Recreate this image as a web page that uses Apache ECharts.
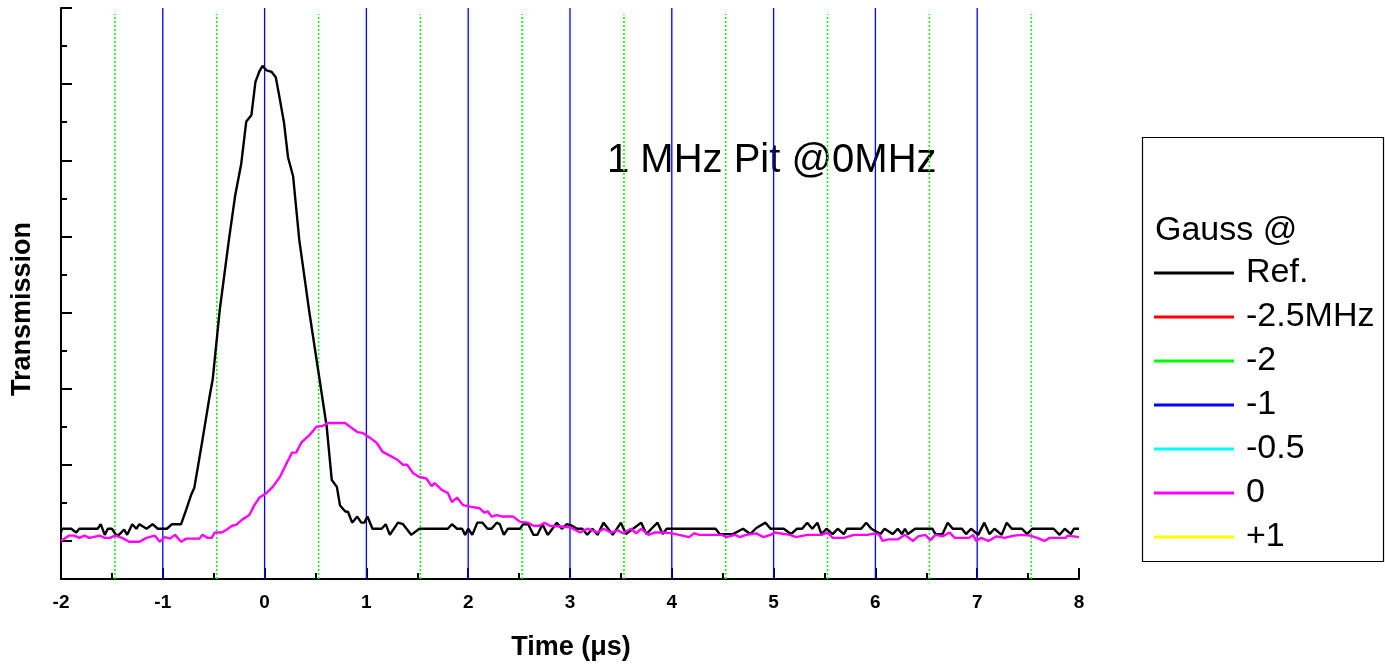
<!DOCTYPE html>
<html>
<head>
<meta charset="utf-8">
<script src="https://cdn.jsdelivr.net/npm/echarts@6/dist/echarts.min.js"></script>
<style>html,body{margin:0;padding:0;background:#fff}#c{width:1385px;height:665px}</style>
</head>
<body>
<div id="c"></div>
<script>
// ---- data ----
const xTicks = [-2, -1, 0, 1, 2, 3, 4, 5, 6, 7, 8];
const blueLines = [-1, 0, 1, 2, 3, 4, 5, 6, 7];
const greenLines = [-1.47, -0.47, 0.53, 1.53, 2.53, 3.53, 4.53, 5.53, 6.53, 7.53];
const yMajorTicks = [0.5, 1.5, 2.5, 3.5, 4.5, 5.5, 6.5, 7.5];
const yMinorTicks = [0, 1, 2, 3, 4, 5, 6, 7];
const legendNames = ['Ref.', '-2.5MHz', '-2', '-1', '-0.5', '0', '+1'];
const legendColors = ['#000000', '#ff0000', '#00ff00', '#0000ff', '#00ffff', '#ff00ff', '#ffff00'];

const refTime = [-2.00,-1.99,-1.90,-1.85,-1.82,-1.64,-1.61,-1.57,-1.54,-1.50,-1.46,-1.43,-1.38,-1.35,-1.30,-1.26,-1.23,-1.16,-1.10,-1.05,-0.96,-0.91,-0.82,-0.77,-0.72,-0.69,-0.61,-0.54,-0.51,-0.44,-0.35,-0.29,-0.23,-0.18,-0.13,-0.09,-0.05,-0.02,0.02,0.07,0.11,0.15,0.19,0.23,0.28,0.34,0.44,0.54,0.61,0.66,0.71,0.74,0.79,0.82,0.86,0.91,0.95,0.98,1.01,1.06,1.15,1.19,1.23,1.31,1.36,1.44,1.52,1.80,1.84,1.89,1.94,1.97,2.00,2.04,2.09,2.14,2.19,2.23,2.28,2.31,2.35,2.39,2.51,2.54,2.59,2.64,2.68,2.73,2.78,2.80,2.87,2.92,2.97,3.02,3.07,3.12,3.17,3.22,3.27,3.33,3.42,3.50,3.55,3.62,3.70,3.75,3.80,3.86,3.91,3.95,4.00,4.43,4.47,4.60,4.70,4.77,4.83,4.92,4.97,5.10,5.17,5.23,5.28,5.33,5.38,5.43,5.47,5.52,5.58,5.63,5.69,5.72,5.86,5.91,5.96,6.05,6.09,6.17,6.22,6.26,6.29,6.32,6.39,6.56,6.59,6.66,6.71,6.76,6.85,6.89,6.94,7.01,7.07,7.12,7.17,7.24,7.29,7.34,7.44,7.49,7.54,7.75,7.81,7.86,7.92,7.95,8.00];
const refValue = [0.61,0.66,0.66,0.61,0.66,0.66,0.72,0.58,0.66,0.66,0.58,0.58,0.65,0.58,0.72,0.66,0.72,0.66,0.72,0.66,0.66,0.72,0.72,0.91,1.11,1.20,1.83,2.40,2.62,3.54,4.46,5.03,5.45,6.01,6.09,6.53,6.67,6.74,6.68,6.66,6.59,6.30,6.00,5.54,5.29,4.46,3.50,2.62,2.00,1.30,1.21,0.97,0.89,0.88,0.74,0.82,0.74,0.74,0.82,0.66,0.66,0.72,0.58,0.74,0.72,0.58,0.66,0.66,0.72,0.66,0.66,0.58,0.66,0.58,0.74,0.74,0.66,0.66,0.74,0.72,0.58,0.66,0.66,0.72,0.72,0.58,0.58,0.72,0.58,0.61,0.74,0.66,0.72,0.70,0.66,0.66,0.58,0.66,0.58,0.74,0.58,0.74,0.59,0.66,0.74,0.59,0.66,0.74,0.59,0.66,0.66,0.66,0.59,0.59,0.66,0.59,0.67,0.74,0.66,0.66,0.59,0.66,0.66,0.74,0.66,0.74,0.59,0.66,0.59,0.66,0.59,0.66,0.66,0.74,0.66,0.59,0.66,0.59,0.66,0.59,0.66,0.59,0.66,0.66,0.59,0.59,0.74,0.66,0.66,0.59,0.66,0.58,0.74,0.59,0.66,0.58,0.74,0.66,0.66,0.59,0.66,0.66,0.58,0.66,0.59,0.66,0.66];

const gaussTime = [-2.00,-1.92,-1.87,-1.82,-1.77,-1.72,-1.62,-1.57,-1.52,-1.47,-1.40,-1.33,-1.23,-1.16,-1.08,-1.03,-0.98,-0.93,-0.88,-0.82,-0.77,-0.64,-0.61,-0.56,-0.52,-0.49,-0.42,-0.37,-0.32,-0.28,-0.22,-0.15,-0.10,-0.05,0.02,0.08,0.15,0.22,0.27,0.31,0.36,0.44,0.51,0.57,0.62,0.79,0.84,0.91,0.96,1.03,1.10,1.16,1.23,1.30,1.36,1.40,1.46,1.52,1.59,1.64,1.67,1.74,1.80,1.84,1.89,1.95,2.02,2.11,2.16,2.19,2.23,2.28,2.34,2.44,2.51,2.59,2.64,2.70,2.75,2.80,3.00,3.10,3.17,3.22,3.27,3.33,3.40,3.47,3.52,3.60,3.65,3.70,3.77,3.83,3.93,4.00,4.07,4.17,4.22,4.27,4.49,4.54,4.62,4.67,4.73,4.83,4.90,4.97,5.01,5.16,5.22,5.33,5.47,5.53,5.58,5.69,5.79,5.92,6.00,6.04,6.07,6.13,6.22,6.29,6.37,6.42,6.49,6.54,6.59,6.66,6.73,6.78,6.92,6.96,6.99,7.04,7.11,7.19,7.27,7.36,7.44,7.52,7.59,7.66,7.71,7.87,7.89,8.00];
const gaussValue = [0.50,0.57,0.57,0.54,0.57,0.54,0.57,0.54,0.54,0.57,0.54,0.49,0.49,0.54,0.57,0.49,0.55,0.53,0.58,0.49,0.53,0.53,0.58,0.54,0.54,0.61,0.61,0.65,0.70,0.71,0.78,0.84,0.97,1.07,1.13,1.21,1.34,1.53,1.66,1.66,1.79,1.89,2.00,2.01,2.05,2.05,2.00,1.93,1.92,1.86,1.79,1.67,1.62,1.57,1.50,1.50,1.39,1.34,1.32,1.22,1.26,1.17,1.13,1.01,1.07,0.97,0.95,0.93,0.87,0.89,0.82,0.84,0.82,0.82,0.75,0.74,0.70,0.70,0.74,0.70,0.68,0.61,0.66,0.64,0.61,0.66,0.61,0.64,0.60,0.66,0.60,0.66,0.58,0.61,0.61,0.60,0.58,0.55,0.60,0.58,0.58,0.55,0.58,0.55,0.58,0.60,0.55,0.58,0.61,0.58,0.55,0.58,0.58,0.61,0.54,0.54,0.58,0.58,0.60,0.58,0.50,0.52,0.52,0.58,0.50,0.56,0.58,0.51,0.58,0.56,0.61,0.54,0.54,0.58,0.50,0.54,0.50,0.56,0.54,0.57,0.58,0.57,0.54,0.50,0.54,0.54,0.57,0.55];

// ---- chart ----
const FONT = "'Liberation Sans', Arial, Helvetica, sans-serif";
const zip = (a, b) => a.map((v, i) => [v, b[i]]);
const chart = echarts.init(document.getElementById('c'), null, {renderer: 'canvas'});

function vLineSeries(xs, yTop, color, dash, width) {
  return {
    type: 'custom', silent: true, z: 1, animation: false, clip: false,
    data: xs.map(x => [x, 0]),
    encode: {x: 0, y: 1},
    renderItem: function (params, api) {
      const p0 = api.coord([api.value(0), 0]);
      const p1 = api.coord([api.value(0), yTop]);
      return {
        type: 'line', silent: true,
        shape: {x1: p0[0], y1: p0[1], x2: p0[0], y2: p1[1]},
        style: {stroke: color, lineWidth: width, lineDash: dash, fill: null}
      };
    }
  };
}

const series = [
  vLineSeries(greenLines, 7.42, '#00ff00', [2, 2], 1.5),
  vLineSeries(blueLines, 7.5, '#0000ff', null, 1.3)
];
legendNames.forEach((name, i) => {
  let data = [];
  if (name === 'Ref.') data = zip(refTime, refValue);
  if (name === '0') data = zip(gaussTime, gaussValue);
  series.push({
    name, type: 'line', data, showSymbol: false, symbol: 'none', z: 3,
    color: legendColors[i], lineStyle: {color: legendColors[i], width: 2.4}, animation: false
  });
});

chart.setOption({
  backgroundColor: '#ffffff',
  animation: false,
  grid: {left: 61, right: 306, top: 8, bottom: 86, containLabel: false},
  xAxis: {
    type: 'value', min: -2, max: 8, interval: 1,
    axisLine: {show: true, onZero: false, lineStyle: {color: '#000', width: 2}},
    axisTick: {show: true, inside: true, length: 11, lineStyle: {color: '#000', width: 2}},
    minorTick: {show: true, splitNumber: 2, length: 6, lineStyle: {color: '#000', width: 2}},
    axisLabel: {show: true, margin: 14, color: '#000', fontSize: 19, fontWeight: 'bold', fontFamily: FONT,
      customValues: xTicks},
    splitLine: {show: false}
  },
  yAxis: [{
    type: 'value', min: 0, max: 7.5,
    axisLine: {show: true, onZero: false, lineStyle: {color: '#000', width: 2}},
    axisTick: {show: true, inside: true, length: 11, lineStyle: {color: '#000', width: 2}, customValues: yMajorTicks},
    axisLabel: {show: false},
    splitLine: {show: false}
  }, {
    type: 'value', min: 0, max: 7.5, position: 'left', offset: 0,
    axisLine: {show: false, onZero: false},
    axisTick: {show: true, inside: true, length: 6, lineStyle: {color: '#000', width: 2}, customValues: yMinorTicks},
    axisLabel: {show: false},
    splitLine: {show: false}
  }],
  legend: {
    show: true, orient: 'vertical', left: 1154, top: 251, padding: 0, itemGap: 0,
    itemWidth: 80, itemHeight: 3, icon: 'rect', selectedMode: false,
    data: legendNames,
    textStyle: {color: '#000', fontSize: 34, fontFamily: FONT, lineHeight: 44, padding: [0, 0, 0, 7]}
  },
  graphic: [
    {type: 'rect', silent: true, shape: {x: 1142.5, y: 137.5, width: 241, height: 424},
      style: {fill: 'none', stroke: '#000', lineWidth: 1.2}},
    {type: 'text', silent: true, x: 1155, y: 231,
      style: {text: 'Gauss @', fill: '#000', font: "34px " + FONT, textAlign: 'left', textVerticalAlign: 'middle', verticalAlign: 'middle'}},
    {type: 'text', silent: true, x: 607, y: 161,
      style: {text: '1 MHz Pit @0MHz', fill: '#000', font: "40px " + FONT, textAlign: 'left', textVerticalAlign: 'middle', verticalAlign: 'middle'}},
    {type: 'text', silent: true, x: 571, y: 648,
      style: {text: 'Time (μs)', fill: '#000', font: "bold 27px " + FONT, textAlign: 'center', textVerticalAlign: 'middle', verticalAlign: 'middle'}},
    {type: 'text', silent: true, x: 23, y: 309, rotation: Math.PI / 2,
      style: {text: 'Transmission', fill: '#000', font: "bold 27px " + FONT, textAlign: 'center', textVerticalAlign: 'middle', verticalAlign: 'middle'}}
  ],
  series
});
</script>
</body>
</html>
